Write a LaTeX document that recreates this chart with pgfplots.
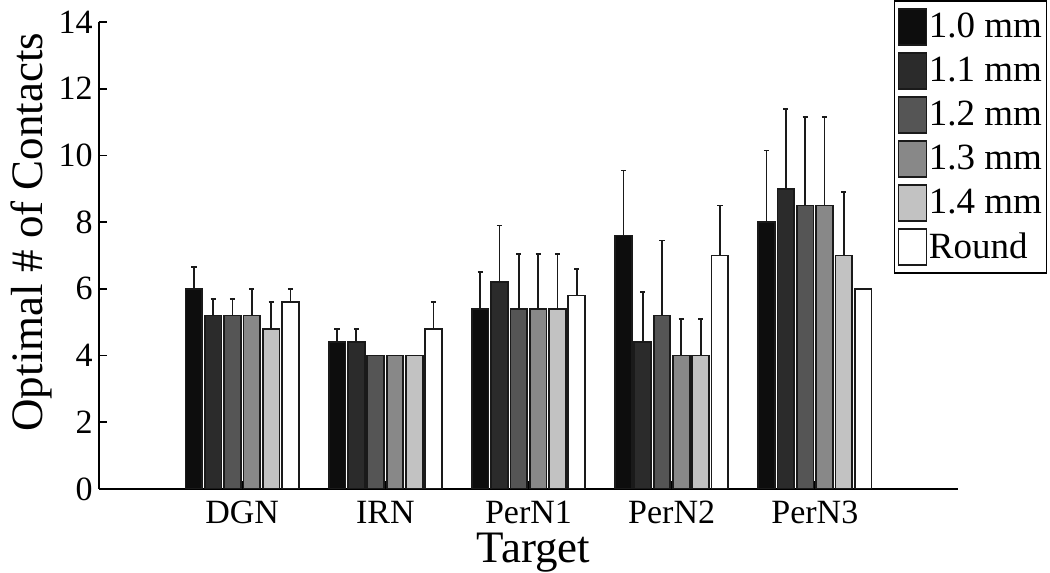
\documentclass[border=0pt]{standalone}
\usepackage{fontspec}
\setmainfont{Liberation Serif}
\usepackage{pgfplots}
\pgfplotsset{compat=1.18}
\usepackage{pgfplotstable}
\definecolor{cA}{HTML}{0D0D0D}
\definecolor{cB}{HTML}{2B2B2B}
\definecolor{cC}{HTML}{555555}
\definecolor{cD}{HTML}{888888}
\definecolor{cE}{HTML}{C2C2C2}
\definecolor{cF}{HTML}{FFFFFF}
\definecolor{edge}{HTML}{1A1A1A}

\pgfplotstableread{
x y e
1 6.0 0.65
2 4.4 0.4
3 5.4 1.1
4 7.6 1.95
5 8.0 2.15
}\tA
\pgfplotstableread{
x y e
1 5.2 0.5
2 4.4 0.4
3 6.2 1.7
4 4.4 1.5
5 9.0 2.4
}\tB
\pgfplotstableread{
x y e
1 5.2 0.5
2 4.0 0.0
3 5.4 1.65
4 5.2 2.25
5 8.5 2.65
}\tC
\pgfplotstableread{
x y e
1 5.2 0.8
2 4.0 0.0
3 5.4 1.65
4 4.0 1.1
5 8.5 2.65
}\tD
\pgfplotstableread{
x y e
1 4.8 0.8
2 4.0 0.0
3 5.4 1.65
4 4.0 1.1
5 7.0 1.9
}\tE
\pgfplotstableread{
x y e
1 5.6 0.4
2 4.8 0.8
3 5.8 0.8
4 7.0 1.5
5 6.0 0.0
}\tF

\pgfplotsset{
  sqlegend/.style={legend image code/.code={\draw[##1,line width=0.8pt] (0pt,-9pt) rectangle (14pt,9pt);}},
  myerr/.style={error bars/y dir=plus, error bars/y explicit,
    error bars/error bar style={line width=0.9pt, edge},
    error bars/error mark options={rotate=90, mark size=1.3pt, line width=0.9pt, edge}},
}

\begin{document}
\begin{tikzpicture}
\begin{axis}[
  at={(49.5pt,42pt)}, anchor=south west,
  scale only axis, width=429.5pt, height=233.5pt,
  xmin=0, xmax=6, ymin=0, ymax=14,
  axis x line=bottom, axis y line=left,
  axis line style={-, line width=0.8pt, black},
  ybar=1.3pt, bar width=8.35pt,
  xtick={1,2,3,4,5}, xticklabels={DGN,IRN,PerN1,PerN2,PerN3},
  ytick={0,2,4,6,8,10,12,14},
  tick align=inside, major tick length=4pt,
  tick style={black, line width=0.8pt},
  /pgf/number format/assume math mode=true,
  ticklabel style={font=\fontsize{17}{17}\selectfont},
  xticklabel style={anchor=base, yshift=-17pt},
  yticklabel style={anchor=east, inner xsep=0pt, xshift=-3pt},
  xlabel={Target}, ylabel={Optimal \# of Contacts},
  xlabel style={font=\fontsize{22.5}{22.5}\selectfont, at={(axis description cs:0.5,0)}, anchor=base, yshift=-37pt, xshift=2.5pt},
  ylabel style={font=\fontsize{22.5}{22.5}\selectfont, at={(axis description cs:-0.0652,0.55)}, anchor=base},
  legend style={at={(rel axis cs:1.104,1.047)}, anchor=north east, draw=black, line width=0.8pt,
    font=\fontsize{18.5}{18.5}\selectfont, inner xsep=1.5pt, inner ysep=2pt, row sep=0pt,
    nodes={inner xsep=0.8pt, inner ysep=0pt, minimum height=22pt, anchor=west}},
  legend cell align=left,
]
\addplot[fill=cA, draw=edge, line width=0.9pt, sqlegend, myerr] table[x=x, y=y, y error=e] {\tA};
\addplot[fill=cB, draw=edge, line width=0.9pt, sqlegend, myerr] table[x=x, y=y, y error=e] {\tB};
\addplot[fill=cC, draw=edge, line width=0.9pt, sqlegend, myerr] table[x=x, y=y, y error=e] {\tC};
\addplot[fill=cD, draw=edge, line width=0.9pt, sqlegend, myerr] table[x=x, y=y, y error=e] {\tD};
\addplot[fill=cE, draw=edge, line width=0.9pt, sqlegend, myerr] table[x=x, y=y, y error=e] {\tE};
\addplot[fill=cF, draw=edge, line width=0.9pt, sqlegend, myerr] table[x=x, y=y, y error=e] {\tF};
\legend{1.0 mm,1.1 mm,1.2 mm,1.3 mm,1.4 mm,Round}
\end{axis}
\pgfresetboundingbox
\path (0,0) rectangle (525pt,286.5pt);
\end{tikzpicture}
\end{document}
